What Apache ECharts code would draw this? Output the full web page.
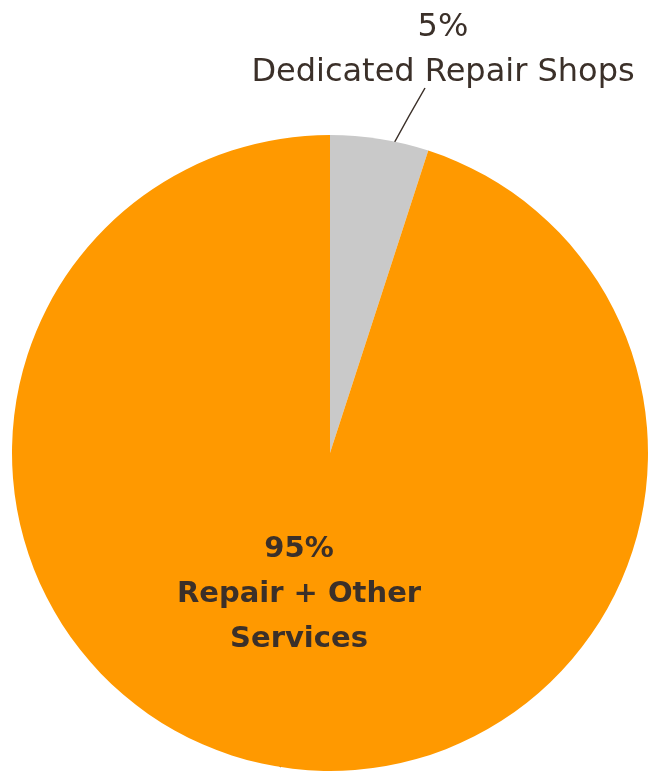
<!DOCTYPE html>
<html>
<head>
<meta charset="utf-8">
<script src="https://cdn.jsdelivr.net/npm/echarts@6/dist/echarts.min.js"></script>
<style>
  html, body { margin: 0; padding: 0; background: #ffffff; }
  #chart { width: 648px; height: 774px; }
</style>
</head>
<body>
<div id="chart"></div>
<script>
// Share of repair revenue by shop type
const categories = ['Dedicated Repair Shops', 'Repair + Other Services'];
const shares = [5, 95];
const sliceColors = ['#c9c9c9', '#ff9900'];

const textColor = '#3b3029';
const fontFamily = '"DejaVu Sans", "Open Sans", sans-serif';

const chart = echarts.init(document.getElementById('chart'), null, { renderer: 'canvas' });

const data = categories.map((name, i) => ({
  name,
  value: shares[i],
  itemStyle: { color: sliceColors[i] }
}));

chart.setOption({
  animation: false,
  series: [{
    type: 'pie',
    center: [330, 453],
    radius: 318,
    startAngle: 90,
    clockwise: true,
    silent: true,
    data,
    label: {
      show: true,
      position: 'outside',
      overflow: 'none',
      bleedMargin: 0,
      color: textColor,
      fontFamily,
      formatter: (p) => p.dataIndex === 0
        ? '{pct|' + p.value + '%}\n{name|' + p.name + '}'
        : '{bpct|' + p.value + '%}\n{bname|Repair + Other}\n{bname|Services}',
      rich: {
        pct: { fontSize: 32, lineHeight: 45, color: textColor, fontFamily, align: 'center' },
        name: { fontSize: 32, lineHeight: 45, color: textColor, fontFamily, align: 'center' },
        bpct: { fontSize: 29, fontWeight: 'bold', lineHeight: 45, color: textColor, fontFamily, align: 'center' },
        bname: { fontSize: 29, fontWeight: 'bold', lineHeight: 45, color: textColor, fontFamily, align: 'center' }
      }
    },
    labelLine: {
      show: true,
      lineStyle: { color: textColor, width: 1.5 }
    },
    labelLayout: (p) => {
      if (p.dataIndex === 0) {
        return {
          x: 443, y: 50, align: 'center', verticalAlign: 'middle',
          labelLinePoints: [[393, 145], [409, 116], [425, 88]]
        };
      }
      return { x: 299, y: 594, align: 'center', verticalAlign: 'middle' };
    }
  }]
});
</script>
</body>
</html>
